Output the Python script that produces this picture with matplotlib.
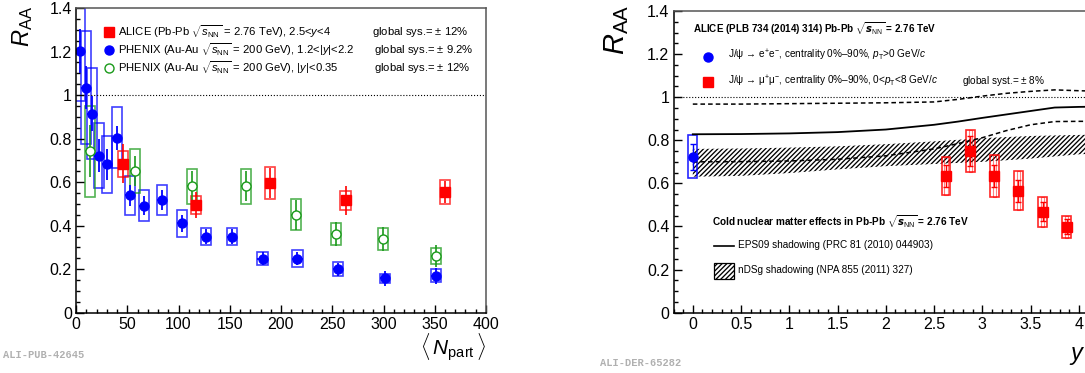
import numpy as np
import matplotlib
matplotlib.use("Agg")
import matplotlib.pyplot as plt
from matplotlib.patches import Rectangle
from matplotlib.lines import Line2D
from matplotlib.ticker import MultipleLocator, FuncFormatter

plt.rcParams['font.family'] = ['Liberation Sans', 'DejaVu Sans']
plt.rcParams['mathtext.fontset'] = 'custom'
plt.rcParams['mathtext.rm'] = 'Liberation Sans'
plt.rcParams['mathtext.it'] = 'Liberation Sans:italic'
plt.rcParams['mathtext.bf'] = 'Liberation Sans:bold'
plt.rcParams['hatch.linewidth'] = 0.95

# =========================
# LEFT PANEL DATA (RAA vs Npart)
# =========================
alice_npart = [46, 117, 189, 263, 360]
alice_raa = [0.685, 0.496, 0.596, 0.516, 0.556]
alice_stat = [0.09, 0.06, 0.07, 0.065, 0.05]
alice_sys = [0.06, 0.042, 0.075, 0.042, 0.056]

fwd_npart = [3.9, 9.8, 15.3, 22.4, 29.9, 40.3, 52.7, 66.7, 84.2, 103.4,
             126.5, 152.5, 182, 216, 255.3, 301.5, 350.9]
fwd_raa = [1.203, 1.034, 0.914, 0.722, 0.681, 0.804, 0.539, 0.492, 0.519, 0.41,
           0.349, 0.349, 0.249, 0.249, 0.2, 0.158, 0.169]
fwd_stat = [0.1, 0.1, 0.08, 0.075, 0.07, 0.055, 0.05, 0.045, 0.045, 0.04,
            0.035, 0.035, 0.03, 0.03, 0.03, 0.035, 0.035]
fwd_sys = [0.23, 0.26, 0.21, 0.15, 0.13, 0.14, 0.09, 0.07, 0.07, 0.06,
           0.04, 0.04, 0.03, 0.04, 0.032, 0.02, 0.03]

mid_npart = [13.7, 57.6, 113.5, 165.9, 214.6, 253.7, 299.2, 351.2]
mid_raa = [0.742, 0.65, 0.581, 0.581, 0.45, 0.361, 0.34, 0.261]
mid_stat = [0.12, 0.07, 0.07, 0.07, 0.07, 0.055, 0.055, 0.05]
mid_sys = [0.21, 0.1, 0.08, 0.08, 0.072, 0.05, 0.05, 0.038]

npart_err = 5

# =========================
# RIGHT PANEL DATA (RAA vs y)
# =========================
ee_y = [0.0]
ee_raa = [0.724]
ee_stat = [0.06]
ee_sys = [0.1]

mm_y = [2.625, 2.875, 3.125, 3.375, 3.625, 3.875]
mm_raa = [0.635, 0.751, 0.635, 0.566, 0.469, 0.399]
mm_stat = [0.05, 0.07, 0.05, 0.05, 0.043, 0.035]
mm_sys = [0.088, 0.097, 0.096, 0.09, 0.07, 0.052]

eps_y = [0, 0.5, 1.0, 1.5, 2.0, 2.5, 2.75, 3.0, 3.25, 3.5, 3.75, 4.0, 4.5]
eps_mid = [0.828, 0.829, 0.832, 0.838, 0.85, 0.872, 0.887, 0.904, 0.92, 0.936, 0.952, 0.955, 0.958]
eps_hi = [0.968, 0.968, 0.97, 0.972, 0.974, 0.978, 0.99, 1.005, 1.018, 1.027, 1.034, 1.03, 1.025]
eps_lo = [0.70, 0.701, 0.704, 0.712, 0.728, 0.76, 0.785, 0.812, 0.845, 0.872, 0.887, 0.888, 0.888]

ndsg_y = [0, 0.5, 1.0, 1.5, 2.0, 2.5, 3.0, 3.5, 4.0, 4.5]
ndsg_lo = [0.631, 0.635, 0.648, 0.665, 0.68, 0.69, 0.70, 0.715, 0.735, 0.745]
ndsg_hi = [0.76, 0.762, 0.766, 0.772, 0.782, 0.795, 0.81, 0.82, 0.825, 0.828]

BLUE = '#0000ff'
RED = '#ff0000'
GREEN = '#1a9a1a'

W, H = 1085, 373
fig = plt.figure(figsize=(W / 100, H / 100), dpi=100)


def fx(px):
    return px / W


def fy(py):
    return 1 - py / H


def style_axes(ax, xmaj, xmin):
    ax.xaxis.set_major_locator(MultipleLocator(xmaj))
    ax.xaxis.set_minor_locator(MultipleLocator(xmin))
    ax.yaxis.set_major_locator(MultipleLocator(0.2))
    ax.yaxis.set_minor_locator(MultipleLocator(0.05))
    fmt = FuncFormatter(lambda v, p: '%g' % round(v, 3))
    ax.xaxis.set_major_formatter(fmt)
    ax.yaxis.set_major_formatter(fmt)
    ax.tick_params(which='both', direction='in', top=False, right=False,
                   labelsize=11.5, width=1.0, pad=3)
    ax.tick_params(which='major', length=6)
    ax.tick_params(which='minor', length=3)
    for s in ax.spines.values():
        s.set_linewidth(1.1)
    ax.spines['top'].set_color('#555555')
    ax.spines['right'].set_color('#555555')


def draw_boxes(ax, xs, ys, sys, half, color, alpha=0.75, lw=1.2):
    for x, y, s in zip(xs, ys, sys):
        ax.add_patch(Rectangle((x - half, y - s), 2 * half, 2 * s, fill=False,
                               edgecolor=color, alpha=alpha, lw=lw))


# =========================
# LEFT PANEL
# =========================
ax1 = fig.add_axes([fx(76), 60.3 / H, 410 / W, 304.7 / H])
ax1.set_xlim(0, 400)
ax1.set_ylim(0, 1.4)
style_axes(ax1, 50, 10)
ax1.axhline(1.0, ls=':', color='k', lw=0.8)

draw_boxes(ax1, fwd_npart, fwd_raa, fwd_sys, 5, BLUE)
draw_boxes(ax1, mid_npart, mid_raa, mid_sys, 5, GREEN)
draw_boxes(ax1, alice_npart, alice_raa, alice_sys, 5, RED)

ax1.errorbar(fwd_npart, fwd_raa, yerr=fwd_stat, xerr=npart_err, fmt='o', color=BLUE,
             ms=6.5, elinewidth=1.3, capsize=0)
ax1.errorbar(mid_npart, mid_raa, yerr=mid_stat, xerr=npart_err, fmt='o', color=GREEN,
             mfc='white', mec=GREEN, ms=6.5, mew=1.0, elinewidth=1.2, capsize=0)
ax1.errorbar(alice_npart, alice_raa, yerr=alice_stat, fmt='s', color=RED,
             ms=6.5, elinewidth=1.2, capsize=0)

# legend
leg_rows = [
    ('s', RED, RED, r"ALICE (Pb-Pb $\sqrt{s_{\rm NN}}$ = 2.76 TeV), 2.5<$y$<4", "global sys.= $\\pm$ 12%", 32, 372),
    ('o', BLUE, BLUE, r"PHENIX (Au-Au $\sqrt{s_{\rm NN}}$ = 200 GeV), 1.2<|$y$|<2.2", "global sys.= $\\pm$ 9.2%", 50, 373.5),
    ('o', 'white', GREEN, r"PHENIX (Au-Au $\sqrt{s_{\rm NN}}$ = 200 GeV), |$y$|<0.35", "global sys.= $\\pm$ 12%", 68, 373.5),
]
for mk, fc, ec, txt, gs, py, gx in leg_rows:
    fig.add_artist(Line2D([fx(109)], [fy(py)], transform=fig.transFigure, marker=mk,
                          ms=6.5, mfc=fc, mec=ec, ls='none'))
    fig.text(fx(118), fy(py), txt, fontsize=8.1, va='center', ha='left')
    fig.text(fx(gx), fy(py), gs, fontsize=8.1, va='center', ha='left')

fig.text(fx(23), fy(26), r"$R_{\rm AA}$", fontsize=17, rotation=90, ha='center', va='center')
fig.text(fx(453), fy(347), r"$\langle\,N_{\rm part}\,\rangle$", fontsize=15, ha='center', va='center')
fig.text(fx(3), fy(355), "ALI-PUB-42645", family='Liberation Mono', fontweight='bold',
         fontsize=7.5, color='#b0b0b0', va='center', ha='left')

# =========================
# RIGHT PANEL
# =========================
px_per_unit = 96.5
x_lo, x_hi = -0.2, 4.3
ax2 = fig.add_axes([fx(673.5), 60.3 / H, (x_hi - x_lo) * px_per_unit / W, 301.7 / H])
ax2.set_xlim(x_lo, x_hi)
ax2.set_ylim(0, 1.4)
style_axes(ax2, 0.5, 0.1)
ax2.axhline(1.0, ls=':', color='k', lw=0.8)

ax2.fill_between(ndsg_y, ndsg_lo, ndsg_hi, facecolor='none', edgecolor='k',
                 hatch='///////', lw=0)
ax2.plot(eps_y, eps_mid, color='k', lw=1.3)
ax2.plot(eps_y, eps_hi, color='k', lw=1.1, ls=(0, (3, 2)))
ax2.plot(eps_y, eps_lo, color='k', lw=1.1, ls=(0, (3, 2)))

draw_boxes(ax2, ee_y, ee_raa, ee_sys, 0.045, BLUE, alpha=0.85)
draw_boxes(ax2, mm_y, mm_raa, mm_sys, 0.045, RED, alpha=0.85)
draw_boxes(ax2, mm_y, mm_raa, mm_sys, 0.018, RED, alpha=0.5, lw=0.8)
ax2.errorbar(ee_y, ee_raa, yerr=ee_stat, fmt='o', color=BLUE, ms=6.5,
             elinewidth=1.0, capsize=2)
ax2.errorbar(mm_y, mm_raa, yerr=mm_stat, fmt='s', color=RED, ms=6.5,
             elinewidth=1.0, capsize=2)

fig.text(fx(693), fy(29), r"ALICE (PLB 734 (2014) 314) Pb-Pb $\sqrt{\boldsymbol{s}_{\rm NN}}$ = 2.76 TeV",
         fontsize=7.1, fontweight='bold', va='center', ha='left')
fig.add_artist(Line2D([fx(708)], [fy(56.7)], transform=fig.transFigure, marker='o',
                      ms=6.5, color=BLUE, ls='none'))
fig.text(fx(728), fy(55.5), r"J/ψ → e$^{+}$e$^{-}$, centrality 0%–90%, $p_{\rm T}$>0 GeV/$c$",
         fontsize=7.2, va='center', ha='left')
fig.add_artist(Line2D([fx(708)], [fy(82.3)], transform=fig.transFigure, marker='s',
                      ms=6.5, color=RED, ls='none'))
fig.text(fx(728), fy(81), r"J/ψ → μ$^{+}$μ$^{-}$, centrality 0%–90%, 0<$p_{\rm T}$<8 GeV/$c$",
         fontsize=7.2, va='center', ha='left')
fig.text(fx(961.5), fy(81), r"global syst.= $\pm$ 8%", fontsize=7.2, va='center', ha='left')

fig.text(fx(712), fy(221.7), r"Cold nuclear matter effects in Pb-Pb $\sqrt{\boldsymbol{s}_{\rm NN}}$ = 2.76 TeV",
         fontsize=7.2, fontweight='bold', va='center', ha='left')
fig.add_artist(Line2D([fx(714), fx(734)], [fy(246), fy(246)], transform=fig.transFigure,
                      color='k', lw=1.2))
fig.text(fx(738.5), fy(245.5), "EPS09 shadowing (PRC 81 (2010) 044903)", fontsize=7.2,
         va='center', ha='left')
fig.add_artist(Rectangle((fx(714), fy(279.3)), fx(20), 16.6 / H, transform=fig.transFigure,
                         facecolor='none', edgecolor='k', hatch='///////', lw=0.9))
fig.text(fx(738.5), fy(270), "nDSg shadowing (NPA 855 (2011) 327)", fontsize=7.2,
         va='center', ha='left')

fig.text(fx(617), fy(30), r"$R_{\rm AA}$", fontsize=21, rotation=90, ha='center', va='center')
fig.text(fx(1069), fy(356), r"$y$", fontsize=17, ha='left', va='center')
fig.text(fx(600), fy(363), "ALI-DER-65282", family='Liberation Mono', fontweight='bold',
         fontsize=7.5, color='#b0b0b0', va='center', ha='left')

fig.savefig("out.png", dpi=100)
